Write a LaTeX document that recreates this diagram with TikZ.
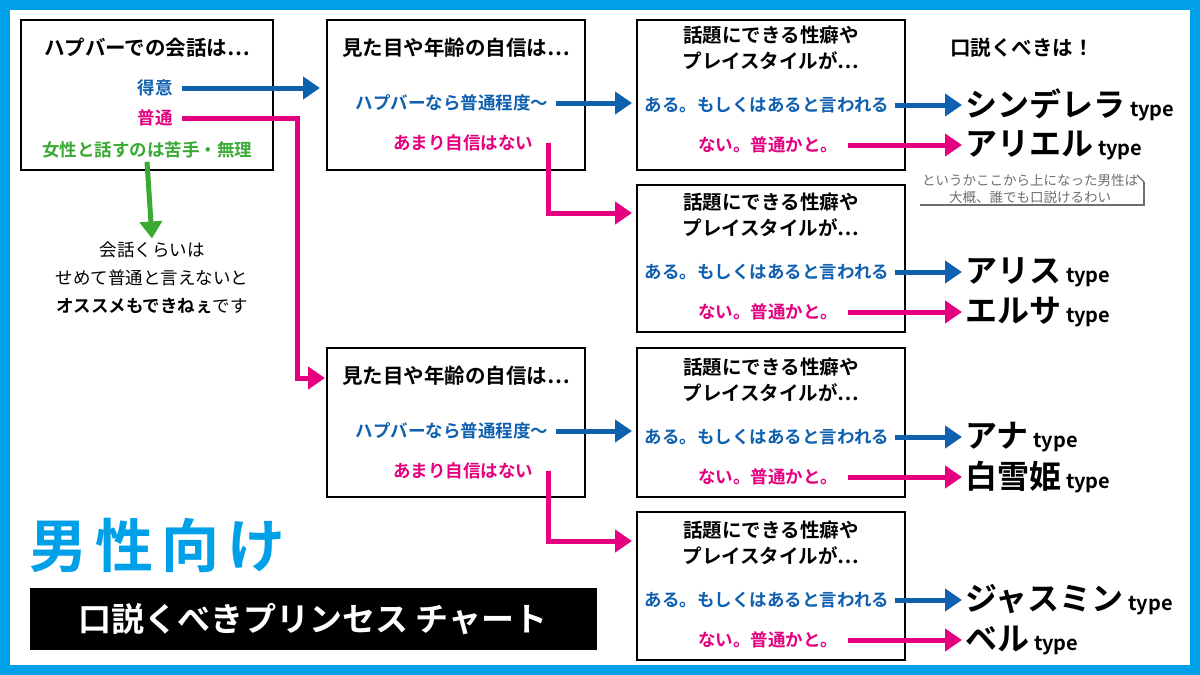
\documentclass[tikz,border=0pt]{standalone}
\usepackage{fontspec}
\usetikzlibrary{arrows.meta,calc}
\newfontfamily\jp{Noto Sans CJK JP}[BoldFont={Noto Sans CJK JP Bold}]
\definecolor{cblue}{RGB}{16,96,176}
\definecolor{cpink}{RGB}{228,0,127}
\definecolor{cgreen}{RGB}{58,170,53}
\definecolor{ccyan}{RGB}{0,160,233}
\definecolor{cgray}{RGB}{110,110,110}
\begin{document}
\begin{tikzpicture}[x=1pt,y=-1pt,
  ttl/.style={font=\jp\bfseries\fontsize{20.5}{24}\selectfont,align=center},
  opt/.style={font=\jp\bfseries\fontsize{17.5}{20}\selectfont},
  res/.style={font=\jp\bfseries\fontsize{32}{34}\selectfont,anchor=west},
  arr/.style={line width=5pt,-{Triangle[length=17pt,width=22pt]}},
  seg/.style={line width=5pt},
  bx/.style={line width=2pt},
]
\useasboundingbox (0,0) rectangle (1200,675);
\fill[white] (0,0) rectangle (1200,675);
\draw[ccyan,line width=10pt] (5,5) rectangle (1195,670);
\newcommand\tp{{\fontsize{20}{20}\selectfont\ type}}
% boxes
\draw[bx] (21,20) rectangle (273,170);
\draw[bx] (327,20) rectangle (585,170);
\draw[bx] (637,20) rectangle (905,170);
\draw[bx] (637,185) rectangle (905,332);
\draw[bx] (327,348) rectangle (585,497);
\draw[bx] (637,348) rectangle (905,497);
\draw[bx] (637,512) rectangle (905,660);
% box A
\node[ttl] (at) at (147,48) {ハプバーでの会話は…};
\node[opt,text=cblue] (a1) at (155,88) {得意};
\node[opt,text=cpink] (a2) at (155,118) {普通};
\node[opt,text=cgreen] (a3) at (147,150) {女性と話すのは苦手・無理};
\node[font=\jp\fontsize{17.5}{28}\selectfont,align=center] (an) at (152,278) {会話くらいは\\せめて普通と言えないと\\{\bfseries オススメもできねぇ}です};
\coordinate (ae1) at (320,88);
\draw[arr,cblue] ($(a1.east)+(6,0)$) -- (ae1);
\coordinate (ap1) at (297,118); \coordinate (ap2) at (297,378); \coordinate (ae2) at (325,378);
\draw[seg,cpink,line join=miter] ($(a2.east)+(6,0)$) -- (ap1) -- (ap2);
\draw[arr,cpink] (294.5,378) -- (ae2);
\draw[arr,cgreen] (a3.south) -- (an.north);
% B boxes
\foreach \n/\y in {b/0,d/328}{
  \node[ttl] (\n t) at (456,48+\y) {見た目や年齢の自信は…};
  \node[opt,text=cblue] (\n 1) at (452,103+\y) {ハプバーなら普通程度～};
  \node[opt,text=cpink] (\n 2) at (463,143+\y) {あまり自信はない};
  \coordinate (\n e1) at (632,103+\y);
  \draw[arr,cblue] ($(\n 1.east)+(4,0)$) -- (\n e1);
  \coordinate (\n p1) at (548,143+\y); \coordinate (\n e2) at (632,213+\y);
  \draw[seg,cpink] (\n p1) -- (548,215.5+\y);
  \draw[arr,cpink] (545.5,213+\y) -- (\n e2);
}
% C boxes
\foreach \n/\y/\ra/\rb in {c/0/シンデレラ/アリエル, e/167/アリス/エルサ, f/332/アナ/白雪姫, g/495/ジャスミン/ベル}{
  \node[ttl,font=\jp\bfseries\fontsize{19.5}{26}\selectfont] (\n t) at (771,48+\y) {話題にできる性癖や\\プレイスタイルが…};
  \node[opt,text=cblue] (\n 1) at (767,105+\y) {ある。もしくはあると言われる};
  \node[opt,text=cpink,anchor=east] (\n 2) at (842,145+\y) {ない。普通かと。};
  \node[res] (\n r1) at (962,105+\y) {\ra\tp};
  \node[res] (\n r2) at (962,145+\y) {\rb\tp};
  \draw[arr,cblue] ($(\n 1.east)+(2,0)$) -- (\n r1.west);
  \draw[arr,cpink] ($(\n 2.east)+(6,0)$) -- (\n r2.west);
}
\node[ttl] (rt) at (1022,48) {口説くべきは！};
% note
\node[font=\jp\fontsize{13.5}{17}\selectfont,text=cgray,align=center] (nt) at (1030,189) {というかここから上になった男性は\\大概、誰でも口説けるわい};
\coordinate (n1) at (920,205); \coordinate (n2) at (1144,205); \coordinate (n3) at (1144,182);
\draw[cgray,line width=1.2pt] (n1) -- (n2) -- (n3);
\draw[cgray,line width=1.2pt] (n3) -- (1137,175);
% title
\node[font=\jp\bfseries\fontsize{58}{60}\selectfont,text=ccyan,anchor=west] (big) at (26,545) {男\hspace{8pt}性\hspace{8pt}向\hspace{8pt}け};
\fill[black] (30,588) rectangle (597,650);
\node[font=\jp\bfseries\fontsize{33}{36}\selectfont,text=white] (sub) at (313,619) {口説くべきプリンセス チャート};
\end{tikzpicture}
\end{document}
